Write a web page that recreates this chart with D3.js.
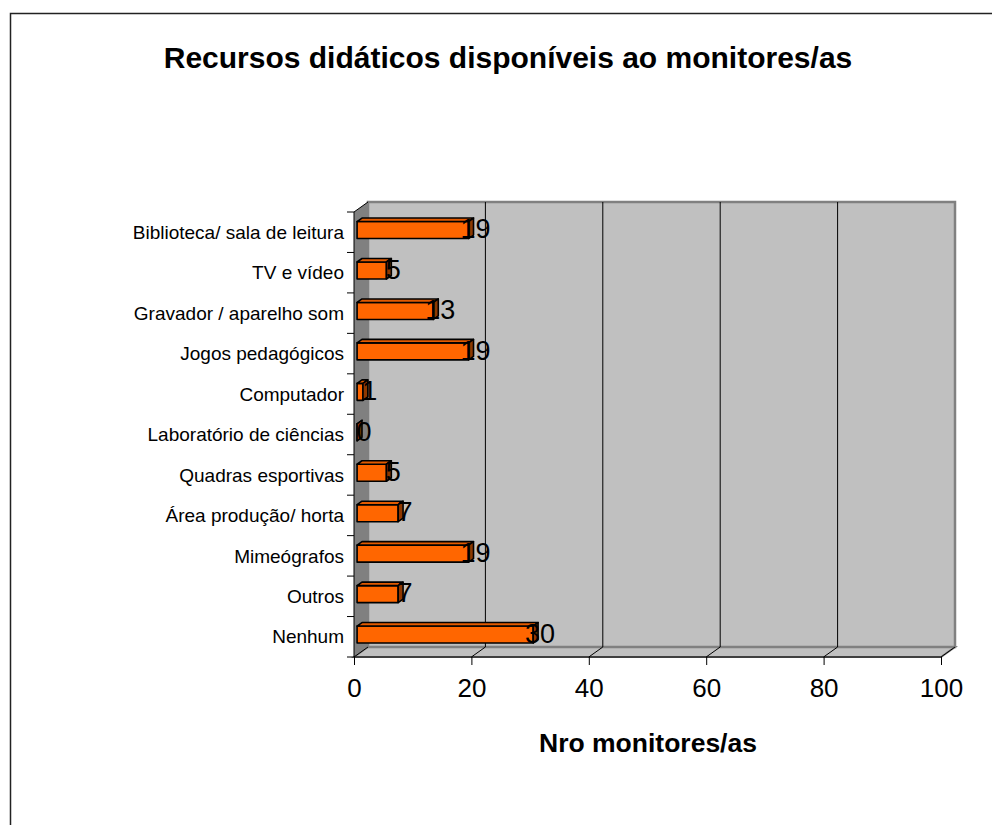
<!DOCTYPE html>
<html>
<head>
<meta charset="utf-8">
<script src="https://cdn.jsdelivr.net/npm/d3@7"></script>
<style>
  body { margin: 0; background: #fff; }
  text { font-family: "Liberation Sans", Arial, sans-serif; fill: #000; }
</style>
</head>
<body>
<div id="chart"></div>
<script>
var categories = ['Biblioteca/ sala de leitura', 'TV e vídeo', 'Gravador / aparelho som',
    'Jogos pedagógicos', 'Computador', 'Laboratório de ciências', 'Quadras esportivas',
    'Área produção/ horta', 'Mimeógrafos', 'Outros', 'Nenhum'];
var values = [19, 5, 13, 19, 1, 0, 5, 7, 19, 7, 30];
var xTicks = [0, 20, 40, 60, 80, 100];
var titleText = 'Recursos didáticos disponíveis ao monitores/as';
var xTitleText = 'Nro monitores/as';

var width = 992, height = 825;
var plot = {left: 354, right: 941, top: 212, bottom: 657};
var depth = {dx: 14, dy: -10};   // 3d offset of the back wall
var barZ0 = 0.22, barZ1 = 0.57;    // bar position inside the depth

var svg = d3.select('#chart').append('svg')
    .attr('width', width).attr('height', height);

// outer frame (runs off the picture on the right and bottom)
svg.append('rect')
    .attr('x', 10.5).attr('y', 13.5)
    .attr('width', 1000).attr('height', 900)
    .attr('fill', 'none').attr('stroke', '#222').attr('stroke-width', 1.5);

var x = d3.scaleLinear().domain([0, 100]).range([plot.left, plot.right]);
var y = d3.scaleBand().domain(categories).range([plot.top, plot.bottom]).padding(0);

function proj(px, py, z) {
    return [px + z * depth.dx, py + z * depth.dy];
}
function poly(pts) {
    return 'M' + pts.map(function(p) { return p[0] + ',' + p[1]; }).join('L') + 'Z';
}

// walls
svg.append('path')
    .attr('d', poly([proj(plot.left, plot.top, 0), proj(plot.left, plot.top, 1),
        proj(plot.left, plot.bottom, 1), proj(plot.left, plot.bottom, 0)]))
    .attr('fill', '#808080');

svg.append('path')
    .attr('d', poly([proj(plot.left, plot.bottom, 0), proj(plot.left, plot.bottom, 1),
        proj(plot.right, plot.bottom, 1), proj(plot.right, plot.bottom, 0)]))
    .attr('fill', '#c0c0c0').attr('stroke', '#808080').attr('stroke-width', 2);

svg.append('path')
    .attr('d', poly([proj(plot.left, plot.top, 1), proj(plot.right, plot.top, 1),
        proj(plot.right, plot.bottom, 1), proj(plot.left, plot.bottom, 1)]))
    .attr('fill', '#c0c0c0').attr('stroke', '#808080').attr('stroke-width', 2.5);

// gridlines on the back wall
svg.selectAll('.grid')
    .data(xTicks.filter(function(d) { return d > 0 && d < 100; }))
    .enter().append('line')
    .attr('class', 'grid')
    .attr('x1', function(d) { return proj(x(d), plot.top, 1)[0]; })
    .attr('x2', function(d) { return proj(x(d), plot.bottom, 1)[0]; })
    .attr('y1', proj(0, plot.top, 1)[1])
    .attr('y2', proj(0, plot.bottom, 1)[1])
    .attr('stroke', '#000').attr('stroke-width', 1);

// floor diagonals from each front tick
svg.selectAll('.diag')
    .data(xTicks)
    .enter().append('line')
    .attr('x1', function(d) { return x(d); })
    .attr('y1', plot.bottom)
    .attr('x2', function(d) { return proj(x(d), plot.bottom, 1)[0]; })
    .attr('y2', proj(0, plot.bottom, 1)[1])
    .attr('stroke', '#000').attr('stroke-width', 1);

// top edge of side wall
svg.append('line')
    .attr('x1', plot.left).attr('y1', plot.top)
    .attr('x2', proj(plot.left, plot.top, 1)[0]).attr('y2', proj(plot.left, plot.top, 1)[1])
    .attr('stroke', '#000').attr('stroke-width', 1);

// x axis
var xAxis = d3.axisBottom(x).tickValues(xTicks).tickSize(8).tickPadding(14);
var gx = svg.append('g')
    .attr('transform', 'translate(0,' + plot.bottom + ')')
    .call(xAxis);
gx.select('.domain').attr('d', 'M' + plot.left + ',0H' + plot.right).attr('stroke', '#000');
gx.selectAll('text')
    .style('font-family', '"Liberation Sans", Arial, sans-serif')
    .style('font-size', '26px')
    .attr('fill', '#000');

// y axis
var gy = svg.append('g')
    .attr('transform', 'translate(' + plot.left + ',0)');
gy.append('line')
    .attr('x1', 0).attr('x2', 0).attr('y1', plot.top).attr('y2', plot.bottom)
    .attr('stroke', '#000');
gy.selectAll('.ytick')
    .data(categories.concat(['end']))
    .enter().append('line')
    .attr('x1', -7).attr('x2', 0)
    .attr('y1', function(d) { return d === 'end' ? plot.bottom : y(d); })
    .attr('y2', function(d) { return d === 'end' ? plot.bottom : y(d); })
    .attr('stroke', '#000');
gy.selectAll('.ylabel')
    .data(categories)
    .enter().append('text')
    .attr('x', -10)
    .attr('y', function(d) { return y(d) + y.bandwidth() / 2; })
    .attr('dy', '0.35em')
    .attr('text-anchor', 'end')
    .style('font-size', '19px')
    .text(function(d) { return d; });

// bars
var barH = 17;
var bars = svg.selectAll('.bar')
    .data(values)
    .enter().append('g');

bars.each(function(d, i) {
    var g = d3.select(this);
    var cy = y(categories[i]) + y.bandwidth() / 2;
    var x0 = x(0), x1 = x(d);
    var t = cy - barH / 2, b = cy + barH / 2;
    g.append('path')
        .attr('d', poly([proj(x0, t, barZ0), proj(x1, t, barZ0), proj(x1, b, barZ0), proj(x0, b, barZ0)]))
        .attr('fill', '#ff6600').attr('stroke', '#000').attr('stroke-width', 1.6)
        .attr('stroke-linejoin', 'round');
    g.append('path')
        .attr('d', poly([proj(x0, t, barZ0), proj(x1, t, barZ0), proj(x1, t, barZ1), proj(x0, t, barZ1)]))
        .attr('fill', '#e25a00').attr('stroke', '#000').attr('stroke-width', 1.6)
        .attr('stroke-linejoin', 'round');
    g.append('path')
        .attr('d', poly([proj(x1, t, barZ0), proj(x1, t, barZ1), proj(x1, b, barZ1), proj(x1, b, barZ0)]))
        .attr('fill', '#8f3800').attr('stroke', '#000').attr('stroke-width', 1.6)
        .attr('stroke-linejoin', 'round');
});

// value labels sit on top of the bar ends
svg.selectAll('.vlabel')
    .data(values)
    .enter().append('text')
    .attr('x', function(d) { return x(d) + 10; })
    .attr('y', function(d, i) { return y(categories[i]) + y.bandwidth() / 2 + 6; })
    .attr('text-anchor', 'middle')
    .style('font-size', '27px')
    .text(function(d) { return d; });

// titles
svg.append('text')
    .attr('x', 508).attr('y', 68)
    .attr('text-anchor', 'middle')
    .style('font-size', '30px').style('font-weight', 'bold')
    .text(titleText);

svg.append('text')
    .attr('x', 648).attr('y', 752)
    .attr('text-anchor', 'middle')
    .style('font-size', '26.5px').style('font-weight', 'bold')
    .text(xTitleText);
</script>
</body>
</html>
